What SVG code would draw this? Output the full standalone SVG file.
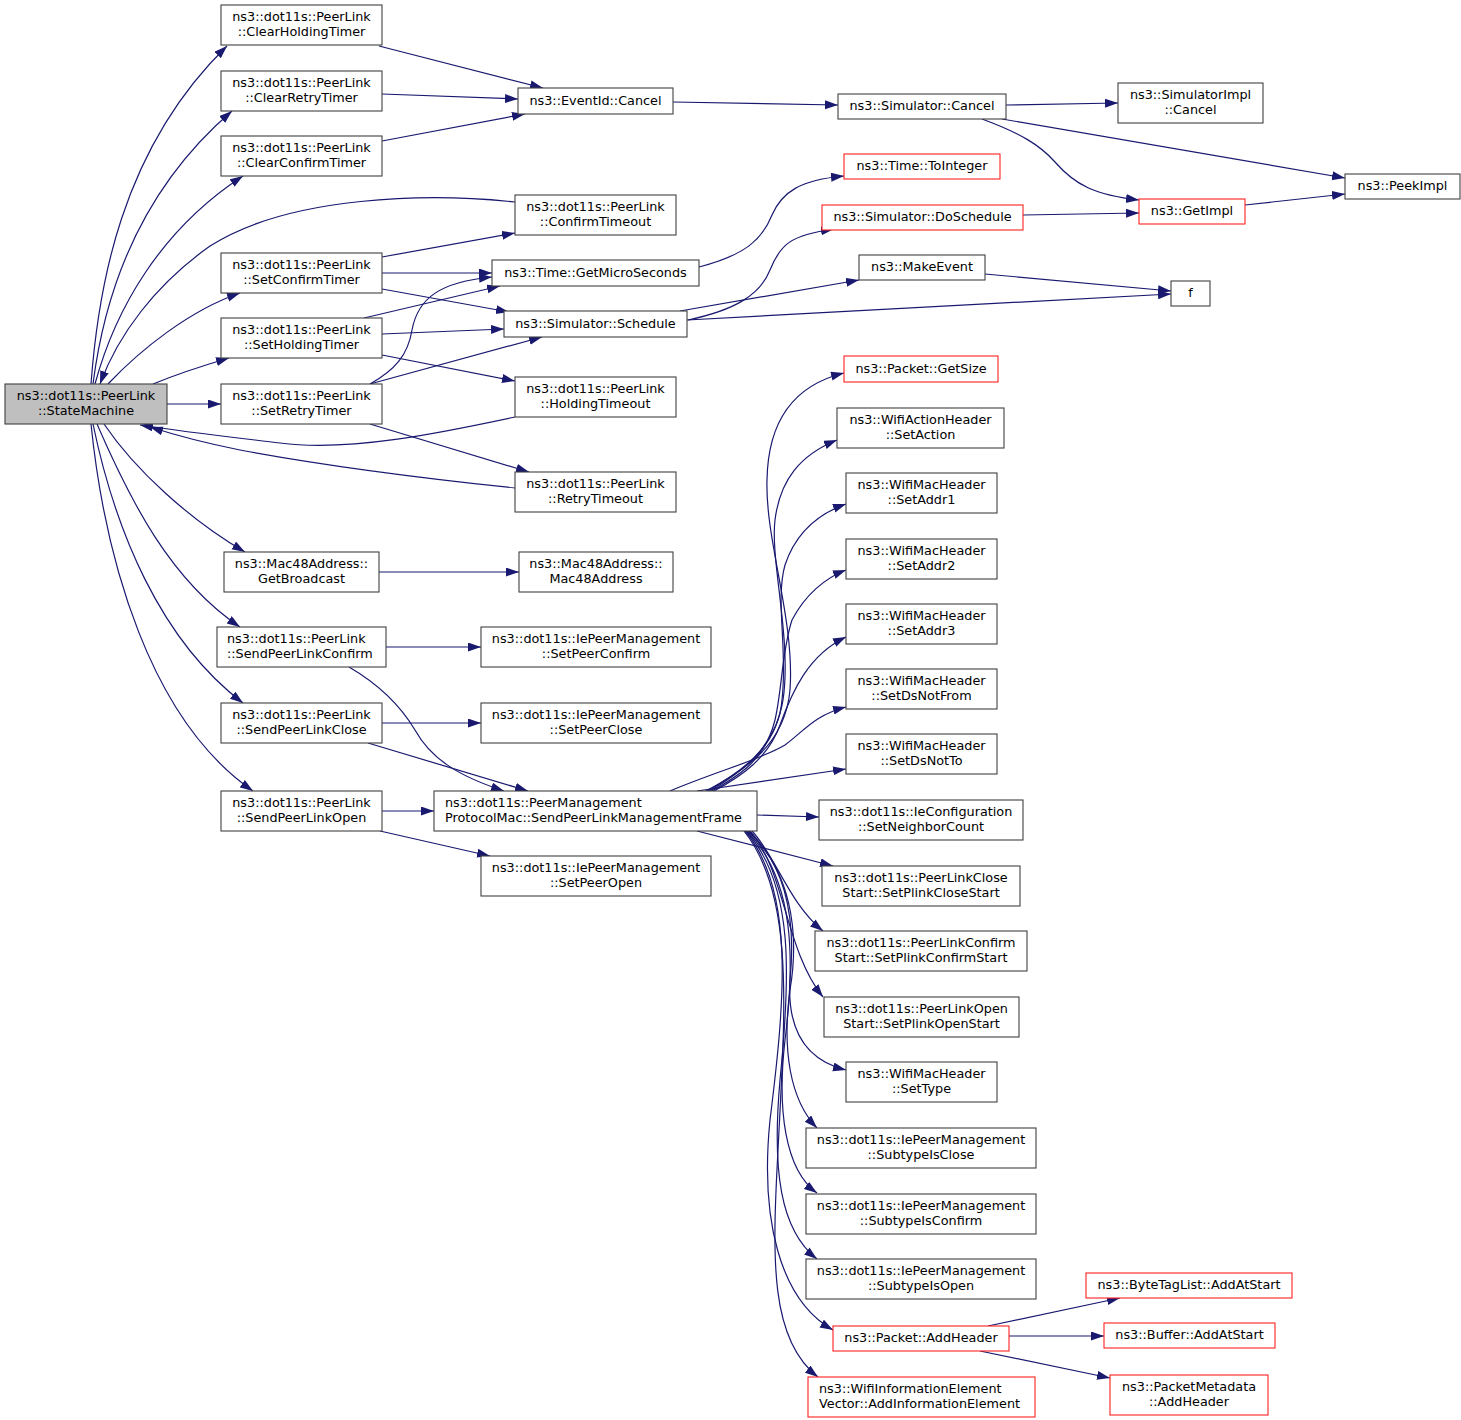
<svg xmlns="http://www.w3.org/2000/svg" width="1461" height="1420" viewBox="0 0 1461 1420">
<defs>
<marker id="a" markerUnits="userSpaceOnUse" markerWidth="14" markerHeight="10" refX="13" refY="4.5" orient="auto">
<path d="M0,0 L13,4.5 L0,9 z" fill="#191970"/>
</marker>
<style>
.n rect{fill:#fff;stroke:#404040;stroke-width:1.1}
.n.r rect{stroke:#ff2020}
.n.g rect{fill:#bfbfbf}
.n text{font-family:"DejaVu Sans",sans-serif;font-size:12.8px;fill:#000;text-anchor:middle}
.n text.l{text-anchor:start}
#edges path{fill:none;stroke:#191970;stroke-width:1.2;marker-end:url(#a)}
</style>
</defs>
<rect width="1461" height="1420" fill="#fff"/>
<g id="edges">
<path d="M91,384 C98,290 120,150 227,46"/>
<path d="M93,384 C105,290 140,190 232,111"/>
<path d="M95,384 C115,310 160,230 243,176"/>
<path d="M515,202 C430,193 290,195 210,246 C155,285 118,335 100,384"/>
<path d="M108,384 C140,350 190,310 240,293"/>
<path d="M153,384 C170,377 195,368 229,358"/>
<path d="M167,404 L221,404"/>
<path d="M104,424 C135,470 190,520 245,552"/>
<path d="M97,424 C130,500 170,580 240,627"/>
<path d="M93,424 C115,530 160,640 243,703"/>
<path d="M91,424 C105,560 150,720 253,791"/>
<path d="M515,417 C440,433 350,452 280,443 C230,437 185,432 140,425"/>
<path d="M515,488 C420,478 320,465 240,450 C205,443 175,435 150,427"/>
<path d="M379,46 L543,88"/>
<path d="M382,94 L518,99"/>
<path d="M382,141 L525,114"/>
<path d="M673,102 L838,105"/>
<path d="M1006,105 L1118,103"/>
<path d="M1002,119 L1345,178"/>
<path d="M982,119 C1020,133 1040,145 1055,162 C1075,185 1095,195 1139,200"/>
<path d="M1245,205 L1345,194"/>
<path d="M1023,215 L1139,213"/>
<path d="M985,274 L1171,291"/>
<path d="M687,320 L1171,294"/>
<path d="M680,311 L859,280"/>
<path d="M688,320 C735,310 760,295 770,270 C780,245 790,235 834,229"/>
<path d="M699,267 C745,255 762,240 772,215 C782,192 800,180 844,176"/>
<path d="M382,257 L515,233"/>
<path d="M382,273 L492,273"/>
<path d="M382,289 L509,312"/>
<path d="M364,318 L500,286"/>
<path d="M382,334 L504,329"/>
<path d="M382,355 L515,381"/>
<path d="M370,384 C395,370 408,355 412,330 C418,298 440,282 492,277"/>
<path d="M370,384 L542,337"/>
<path d="M370,424 L529,472"/>
<path d="M378,572 L519,572"/>
<path d="M386,647 L481,647"/>
<path d="M349,667 C380,685 400,705 415,730 C430,757 455,775 504,791"/>
<path d="M382,723 L481,723"/>
<path d="M368,743 L528,791"/>
<path d="M382,811 L434,811"/>
<path d="M380,831 L490,856"/>
<path d="M706,791 C745,770 785,745 790,690 C795,620 765,540 767,480 C768,420 795,385 844,373"/>
<path d="M708,791 C740,772 775,750 783,700 C792,640 770,560 775,520 C780,480 800,455 837,440"/>
<path d="M710,791 C745,770 778,745 782,700 C788,650 775,600 785,565 C795,535 815,515 846,504"/>
<path d="M712,791 C740,775 765,760 775,720 C782,690 782,650 792,620 C805,595 825,578 846,570"/>
<path d="M714,791 C742,776 768,758 780,725 C792,692 808,655 846,637"/>
<path d="M670,791 C720,770 760,760 785,745 C805,730 815,715 846,707"/>
<path d="M697,791 L846,769"/>
<path d="M757,815 L819,817"/>
<path d="M697,831 L833,866"/>
<path d="M752,831 C775,855 790,905 823,931"/>
<path d="M750,831 C785,870 785,950 823,997"/>
<path d="M749,831 C790,870 795,930 790,980 C787,1030 805,1060 846,1070"/>
<path d="M748,831 C790,870 800,930 790,990 C782,1050 790,1100 817,1128"/>
<path d="M747,831 C795,880 795,960 785,1040 C777,1110 785,1170 817,1193"/>
<path d="M746,831 C795,885 790,980 780,1080 C772,1170 780,1230 817,1259"/>
<path d="M745,831 C795,890 785,1000 770,1120 C760,1220 780,1300 833,1330"/>
<path d="M744,831 C795,895 785,1010 778,1150 C772,1260 770,1340 818,1377"/>
<path d="M988,1326 L1120,1298"/>
<path d="M1009,1336 L1104,1336"/>
<path d="M980,1351 L1110,1378"/>
</g>
<g id="n1" class="n g"><rect x="5" y="384" width="162" height="40"/><text x="86" y="400">ns3::dot11s::PeerLink</text><text x="86" y="415">::StateMachine</text></g>
<g id="n2" class="n"><rect x="221" y="5" width="161" height="40"/><text x="301.5" y="21">ns3::dot11s::PeerLink</text><text x="301.5" y="36">::ClearHoldingTimer</text></g>
<g id="n3" class="n"><rect x="221" y="71" width="161" height="40"/><text x="301.5" y="87">ns3::dot11s::PeerLink</text><text x="301.5" y="102">::ClearRetryTimer</text></g>
<g id="n4" class="n"><rect x="221" y="136" width="161" height="40"/><text x="301.5" y="152">ns3::dot11s::PeerLink</text><text x="301.5" y="167">::ClearConfirmTimer</text></g>
<g id="n5" class="n"><rect x="221" y="253" width="161" height="40"/><text x="301.5" y="269">ns3::dot11s::PeerLink</text><text x="301.5" y="284">::SetConfirmTimer</text></g>
<g id="n6" class="n"><rect x="221" y="318" width="161" height="40"/><text x="301.5" y="334">ns3::dot11s::PeerLink</text><text x="301.5" y="349">::SetHoldingTimer</text></g>
<g id="n7" class="n"><rect x="221" y="384" width="161" height="40"/><text x="301.5" y="400">ns3::dot11s::PeerLink</text><text x="301.5" y="415">::SetRetryTimer</text></g>
<g id="n8" class="n"><rect x="224" y="552" width="155" height="40"/><text x="301.5" y="568">ns3::Mac48Address::</text><text x="301.5" y="583">GetBroadcast</text></g>
<g id="n9" class="n"><rect x="217" y="627" width="169" height="40"/><text class="l" x="227" y="643">ns3::dot11s::PeerLink</text><text class="l" x="227" y="658">::SendPeerLinkConfirm</text></g>
<g id="n10" class="n"><rect x="221" y="703" width="161" height="40"/><text x="301.5" y="719">ns3::dot11s::PeerLink</text><text x="301.5" y="734">::SendPeerLinkClose</text></g>
<g id="n11" class="n"><rect x="221" y="791" width="161" height="40"/><text x="301.5" y="807">ns3::dot11s::PeerLink</text><text x="301.5" y="822">::SendPeerLinkOpen</text></g>
<g id="n12" class="n"><rect x="518" y="88" width="155" height="26"/><text x="595.5" y="105">ns3::EventId::Cancel</text></g>
<g id="n13" class="n"><rect x="515" y="195" width="161" height="40"/><text x="595.5" y="211">ns3::dot11s::PeerLink</text><text x="595.5" y="226">::ConfirmTimeout</text></g>
<g id="n14" class="n"><rect x="492" y="260" width="207" height="26"/><text x="595.5" y="277">ns3::Time::GetMicroSeconds</text></g>
<g id="n15" class="n"><rect x="504" y="311" width="183" height="26"/><text x="595.5" y="328">ns3::Simulator::Schedule</text></g>
<g id="n16" class="n"><rect x="515" y="377" width="161" height="40"/><text x="595.5" y="393">ns3::dot11s::PeerLink</text><text x="595.5" y="408">::HoldingTimeout</text></g>
<g id="n17" class="n"><rect x="515" y="472" width="161" height="40"/><text x="595.5" y="488">ns3::dot11s::PeerLink</text><text x="595.5" y="503">::RetryTimeout</text></g>
<g id="n18" class="n"><rect x="519" y="552" width="154" height="40"/><text x="596" y="568">ns3::Mac48Address::</text><text x="596" y="583">Mac48Address</text></g>
<g id="n19" class="n"><rect x="481" y="627" width="230" height="40"/><text x="596" y="643">ns3::dot11s::IePeerManagement</text><text x="596" y="658">::SetPeerConfirm</text></g>
<g id="n20" class="n"><rect x="481" y="703" width="230" height="40"/><text x="596" y="719">ns3::dot11s::IePeerManagement</text><text x="596" y="734">::SetPeerClose</text></g>
<g id="n21" class="n"><rect x="434" y="791" width="323" height="40"/><text class="l" x="445" y="807">ns3::dot11s::PeerManagement</text><text class="l" x="445" y="822">ProtocolMac::SendPeerLinkManagementFrame</text></g>
<g id="n22" class="n"><rect x="481" y="856" width="230" height="40"/><text x="596" y="872">ns3::dot11s::IePeerManagement</text><text x="596" y="887">::SetPeerOpen</text></g>
<g id="n23" class="n"><rect x="838" y="94" width="168" height="25"/><text x="922" y="110">ns3::Simulator::Cancel</text></g>
<g id="n24" class="n r"><rect x="844" y="154" width="156" height="25"/><text x="922" y="170">ns3::Time::ToInteger</text></g>
<g id="n25" class="n r"><rect x="822" y="205" width="201" height="25"/><text x="922.5" y="221">ns3::Simulator::DoSchedule</text></g>
<g id="n26" class="n"><rect x="859" y="255" width="126" height="25"/><text x="922" y="271">ns3::MakeEvent</text></g>
<g id="n27" class="n"><rect x="1118" y="83" width="145" height="40"/><text x="1190.5" y="99">ns3::SimulatorImpl</text><text x="1190.5" y="114">::Cancel</text></g>
<g id="n28" class="n r"><rect x="1139" y="199" width="106" height="25"/><text x="1192" y="215">ns3::GetImpl</text></g>
<g id="n29" class="n"><rect x="1171" y="281" width="39" height="25"/><text x="1190.5" y="297">f</text></g>
<g id="n30" class="n"><rect x="1345" y="174" width="115" height="25"/><text x="1402.5" y="190">ns3::PeekImpl</text></g>
<g id="n31" class="n r"><rect x="844" y="356" width="154" height="26"/><text x="921" y="373">ns3::Packet::GetSize</text></g>
<g id="n32" class="n"><rect x="837" y="408" width="167" height="40"/><text x="920.5" y="424">ns3::WifiActionHeader</text><text x="920.5" y="439">::SetAction</text></g>
<g id="n33" class="n"><rect x="846" y="473" width="151" height="40"/><text x="921.5" y="489">ns3::WifiMacHeader</text><text x="921.5" y="504">::SetAddr1</text></g>
<g id="n34" class="n"><rect x="846" y="539" width="151" height="40"/><text x="921.5" y="555">ns3::WifiMacHeader</text><text x="921.5" y="570">::SetAddr2</text></g>
<g id="n35" class="n"><rect x="846" y="604" width="151" height="40"/><text x="921.5" y="620">ns3::WifiMacHeader</text><text x="921.5" y="635">::SetAddr3</text></g>
<g id="n36" class="n"><rect x="846" y="669" width="151" height="40"/><text x="921.5" y="685">ns3::WifiMacHeader</text><text x="921.5" y="700">::SetDsNotFrom</text></g>
<g id="n37" class="n"><rect x="846" y="734" width="151" height="40"/><text x="921.5" y="750">ns3::WifiMacHeader</text><text x="921.5" y="765">::SetDsNotTo</text></g>
<g id="n38" class="n"><rect x="819" y="800" width="204" height="40"/><text x="921" y="816">ns3::dot11s::IeConfiguration</text><text x="921" y="831">::SetNeighborCount</text></g>
<g id="n39" class="n"><rect x="822" y="866" width="198" height="40"/><text x="921" y="882">ns3::dot11s::PeerLinkClose</text><text x="921" y="897">Start::SetPlinkCloseStart</text></g>
<g id="n40" class="n"><rect x="815" y="931" width="212" height="40"/><text x="921" y="947">ns3::dot11s::PeerLinkConfirm</text><text x="921" y="962">Start::SetPlinkConfirmStart</text></g>
<g id="n41" class="n"><rect x="824" y="997" width="195" height="40"/><text x="921.5" y="1013">ns3::dot11s::PeerLinkOpen</text><text x="921.5" y="1028">Start::SetPlinkOpenStart</text></g>
<g id="n42" class="n"><rect x="846" y="1062" width="151" height="40"/><text x="921.5" y="1078">ns3::WifiMacHeader</text><text x="921.5" y="1093">::SetType</text></g>
<g id="n43" class="n"><rect x="806" y="1128" width="230" height="40"/><text x="921" y="1144">ns3::dot11s::IePeerManagement</text><text x="921" y="1159">::SubtypeIsClose</text></g>
<g id="n44" class="n"><rect x="806" y="1194" width="230" height="40"/><text x="921" y="1210">ns3::dot11s::IePeerManagement</text><text x="921" y="1225">::SubtypeIsConfirm</text></g>
<g id="n45" class="n"><rect x="806" y="1259" width="230" height="40"/><text x="921" y="1275">ns3::dot11s::IePeerManagement</text><text x="921" y="1290">::SubtypeIsOpen</text></g>
<g id="n46" class="n r"><rect x="833" y="1326" width="176" height="25"/><text x="921" y="1342">ns3::Packet::AddHeader</text></g>
<g id="n47" class="n r"><rect x="808" y="1377" width="227" height="40"/><text class="l" x="819" y="1393">ns3::WifiInformationElement</text><text class="l" x="819" y="1408">Vector::AddInformationElement</text></g>
<g id="n48" class="n r"><rect x="1086" y="1273" width="206" height="25"/><text x="1189" y="1289">ns3::ByteTagList::AddAtStart</text></g>
<g id="n49" class="n r"><rect x="1104" y="1323" width="171" height="25"/><text x="1189.5" y="1339">ns3::Buffer::AddAtStart</text></g>
<g id="n50" class="n r"><rect x="1110" y="1375" width="158" height="40"/><text x="1189" y="1391">ns3::PacketMetadata</text><text x="1189" y="1406">::AddHeader</text></g>
</svg>
